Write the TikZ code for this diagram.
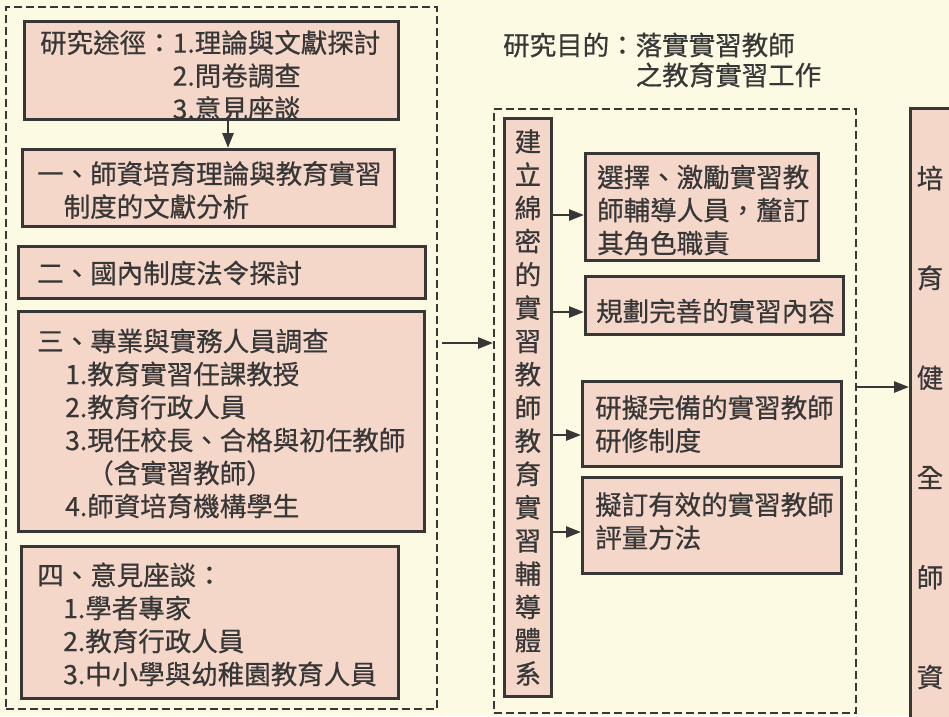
\documentclass[tikz,border=0pt]{standalone}
\usepackage{fontspec}
\setmainfont{Noto Sans CJK TC}[RawFeature={embolden=0.6}]
\usetikzlibrary{arrows.meta}
\definecolor{bgc}{RGB}{252,250,226}
\definecolor{boxc}{RGB}{245,215,202}
\definecolor{linec}{RGB}{55,55,55}
\begin{document}
\begin{tikzpicture}[x=1pt,y=-1pt,
  pbox/.style={draw=linec,fill=boxc,line width=2.8pt,inner sep=0pt,anchor=north west},
  dbox/.style={draw=linec,line width=2pt,dash pattern=on 8pt off 4pt,inner sep=0pt,anchor=north west},
  txt/.style={text=linec,inner sep=0pt,anchor=west,align=left,font=\fontsize{26.5}{33}\selectfont},
  arr/.style={draw=linec,line width=2.6pt,-{Triangle[length=15pt,width=11pt]}}]
\useasboundingbox[fill=bgc] (0,0) rectangle (949,716);
% outer left dashed box
\node[dbox,minimum width=431pt,minimum height=702pt] (outer) at (5,6) {};
% left boxes
\node[pbox,minimum width=374pt,minimum height=98pt] (b1) at (23,20) {};
\node[txt] (t1) at (40,75.5) {研究途徑：1.理論與文獻探討\\\hphantom{研究途徑：}2.問卷調查\\\hphantom{研究途徑：}3.意見座談};
\node[pbox,minimum width=372pt,minimum height=77pt] (b2) at (21,148) {};
\node[txt] (t2) at (37,190) {一、師資培育理論與教育實習\\\hphantom{一}制度的文獻分析};
\node[pbox,minimum width=407pt,minimum height=52pt] (b3) at (17,245) {};
\node[txt] (t3) at (37,273) {二、國內制度法令探討};
\node[pbox,minimum width=406pt,minimum height=220pt] (b4) at (17,310) {};
\node[txt] (t4) at (37,423.5) {三、專業與實務人員調查\\\hspace*{28pt}1.教育實習任課教授\\\hspace*{28pt}2.教育行政人員\\\hspace*{28pt}3.現任校長、合格與初任教師\\\hspace*{28pt}\hphantom{3.}（含實習教師）\\\hspace*{28pt}4.師資培育機構學生};
\node[pbox,minimum width=377pt,minimum height=152pt] (b5) at (20,545) {};
\node[txt] (t5) at (37,624.5) {四、意見座談：\\\hspace*{26pt}1.學者專家\\\hspace*{26pt}2.教育行政人員\\\hspace*{26pt}3.中小學與幼稚園教育人員};
% title
\node[txt,font=\fontsize{26.5}{30}\selectfont] (title) at (503,60) {研究目的：落實實習教師\\\hphantom{研究目的：}之教育實習工作};
% middle dashed box
\node[dbox,minimum width=362pt,minimum height=604pt] (mid) at (493,108) {};
\node[pbox,minimum width=47pt,minimum height=578pt] (vb) at (503,117) {};
\node[txt,anchor=center,align=center,font=\fontsize{26.5}{33.25}\selectfont] (vt) at (vb.center) {建\\立\\綿\\密\\的\\實\\習\\教\\師\\教\\育\\實\\習\\輔\\導\\體\\系};
\node[pbox,minimum width=233pt,minimum height=107pt] (ba) at (584,152) {};
\node[txt] (ta) at (597,210) {選擇、激勵實習教\\師輔導人員，釐訂\\其角色職責};
\node[pbox,minimum width=258pt,minimum height=58pt] (bb) at (584,275) {};
\node[txt] (tb) at (596,311) {規劃完善的實習內容};
\node[pbox,minimum width=259pt,minimum height=85pt] (bc) at (581,380) {};
\node[txt] (tc) at (595,424) {研擬完備的實習教師\\研修制度};
\node[pbox,minimum width=259pt,minimum height=96pt] (bd) at (581,476) {};
\node[txt] (td) at (595,521) {擬訂有效的實習教師\\評量方法};
% right box
\node[pbox,minimum width=80pt,minimum height=640pt] (rb) at (909,107) {};
\node[txt,anchor=center,align=center,font=\fontsize{26.5}{99.8}\selectfont] (rt) at (930,427.5) {培\\育\\健\\全\\師\\資};
% arrow coordinates
\coordinate (y0) at (228,0);
\coordinate (y1) at (0,343);
\coordinate (ya) at (0,215);
\coordinate (yb) at (0,312);
\coordinate (yc) at (0,435);
\coordinate (yd) at (0,532);
\coordinate (ye) at (0,387);
% arrows
\draw[arr] (b1.south -| y0) -- (b2.north -| y0);
\draw[arr] ([xshift=4pt]outer.east |- y1) -- (mid.west |- y1);
\draw[arr] (vb.east |- ya) -- (ba.west |- ya);
\draw[arr] (vb.east |- yb) -- (bb.west |- yb);
\draw[arr] (vb.east |- yc) -- (bc.west |- yc);
\draw[arr] (vb.east |- yd) -- (bd.west |- yd);
\draw[arr] (mid.east |- ye) -- (rb.west |- ye);
\end{tikzpicture}
\end{document}
